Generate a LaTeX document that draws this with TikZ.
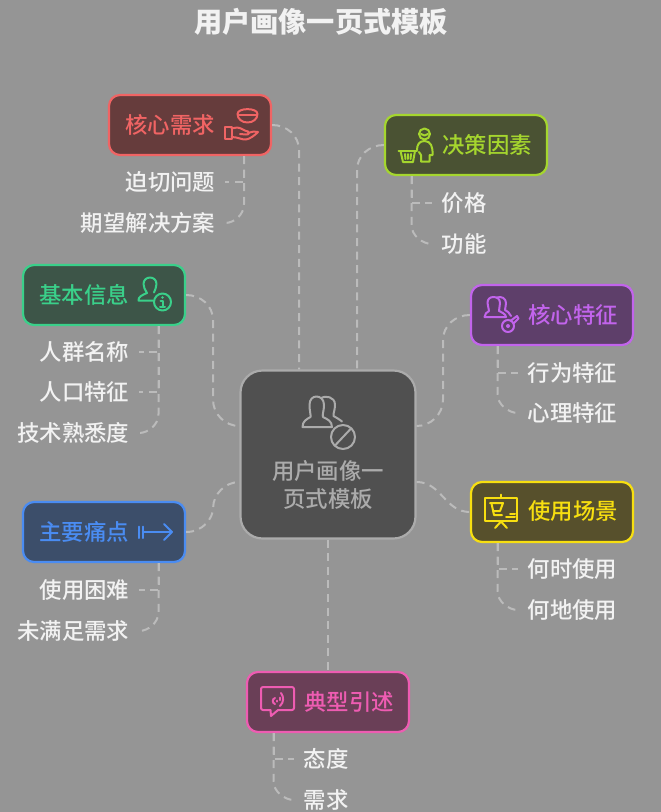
\documentclass[tikz,border=0pt]{standalone}
\usepackage{fontspec}
\setmainfont{Noto Sans CJK SC}
\newfontfamily\medf{Noto Sans CJK SC Medium}
\usetikzlibrary{calc}
\definecolor{bgc}{HTML}{959595}
\definecolor{linec}{HTML}{BBBBBB}
\definecolor{subc}{HTML}{F2F2F2}
\definecolor{hubf}{HTML}{505050}
\definecolor{hubs}{HTML}{ABABAB}
\definecolor{redf}{HTML}{663C3C}\definecolor{reds}{HTML}{F06464}
\definecolor{limf}{HTML}{4A5233}\definecolor{lims}{HTML}{A5D62E}
\definecolor{grnf}{HTML}{3D5548}\definecolor{grns}{HTML}{3AD08A}
\definecolor{purf}{HTML}{5E3F6A}\definecolor{purs}{HTML}{C264EC}
\definecolor{bluf}{HTML}{3C4E6A}\definecolor{blus}{HTML}{4A8CF2}
\definecolor{yelf}{HTML}{57502C}\definecolor{yels}{HTML}{F7DF10}
\definecolor{pnkf}{HTML}{6A3F57}\definecolor{pnks}{HTML}{EE5CB2}
\tikzset{
  x=1pt,y=-1pt,
  boxn/.style n args={2}{draw=#2,fill=#1,line width=2.2pt,rounded corners=11pt,
    minimum width=162pt,minimum height=60pt,inner sep=0pt},
  headt/.style={text=#1,font=\medf\fontsize{22.4pt}{26pt}\selectfont,inner sep=0pt},
  subt/.style={text=subc,font=\medf\fontsize{22.4pt}{26pt}\selectfont,inner ysep=0pt,inner xsep=9.5pt},
  conn/.style={draw=linec,line width=2pt,dash pattern=on 8pt off 5.6pt},
  ico/.style={draw=#1,line width=2pt,line join=round,line cap=round},
}
\begin{document}
\begin{tikzpicture}
\fill[bgc] (0,0) rectangle (661,812);
\useasboundingbox (0,0) rectangle (661,812);

% title
\node[text=subc,inner sep=0pt,font=\fontsize{28.2pt}{32pt}\selectfont\bfseries] (title) at (321,22) {用户画像一页式模板};

% junction coordinates
\coordinate (j1) at (299,150);
\coordinate (j2) at (357,170);
\coordinate (j3) at (213,320);
\coordinate (j4) at (443,340);

% hub
\node[draw=hubs,fill=hubf,line width=2.2pt,rounded corners=22pt,minimum width=175pt,minimum height=168pt,inner sep=0pt] (hub) at (328,454.5) {};
\node[text=hubs,align=center,inner sep=0pt,font=\medf\fontsize{22.4pt}{27.5pt}\selectfont] (hubt) at (328,485) {用户画像一\\页式模板};

% category boxes
\node[boxn={redf}{reds}] (n1) at (190,125) {};
\node[boxn={limf}{lims}] (n2) at (466,145) {};
\node[boxn={grnf}{grns}] (n3) at (104,295) {};
\node[boxn={purf}{purs}] (n4) at (552,315) {};
\node[boxn={bluf}{blus}] (n5) at (104,532) {};
\node[boxn={yelf}{yels}] (n6) at (552,512) {};
\node[boxn={pnkf}{pnks}] (n7) at (328,702) {};

% box texts
\node[headt=reds] (n1t) at (170,124.5) {核心需求};
\node[headt=lims] (n2t) at (487,144.5) {决策因素};
\node[headt=grns] (n3t) at (84,294.5) {基本信息};
\node[headt=purs] (n4t) at (573,314.5) {核心特征};
\node[headt=blus] (n5t) at (84,531.5) {主要痛点};
\node[headt=yels] (n6t) at (573,511.5) {使用场景};
\node[headt=pnks] (n7t) at (349,701.5) {典型引述};

% child texts
\node[subt,anchor=east] (a1) at (225,182) {迫切问题};
\node[subt,anchor=east] (a2) at (225,223) {期望解决方案};
\node[subt,anchor=west] (b1) at (432,203) {价格};
\node[subt,anchor=west] (b2) at (432,244) {功能};
\node[subt,anchor=east] (c1) at (139,352) {人群名称};
\node[subt,anchor=east] (c2) at (139,392) {人口特征};
\node[subt,anchor=east] (c3) at (139,433) {技术熟悉度};
\node[subt,anchor=west] (d1) at (518,373) {行为特征};
\node[subt,anchor=west] (d2) at (518,413) {心理特征};
\node[subt,anchor=east] (e1) at (139,590) {使用困难};
\node[subt,anchor=east] (e2) at (139,631) {未满足需求};
\node[subt,anchor=west] (f1) at (518,569) {何时使用};
\node[subt,anchor=west] (f2) at (518,610) {何地使用};
\node[subt,anchor=west] (g1) at (294,759) {态度};
\node[subt,anchor=west] (g2) at (294,800) {需求};

% hub connectors
\draw[conn] (n1.east) .. controls +(15,0) and +(0,-14) .. (j1) -- (j1 |- hub.north);
\draw[conn] (n2.west) .. controls +(-15,0) and +(0,-14) .. (j2) -- (j2 |- hub.north);
\draw[conn] (n3.east) .. controls +(15,0) and +(0,-14) .. (j3) -- ($(j3 |- hub.west)+(0,-55)$) .. controls +(0,15) and +(-14,0) .. ($(hub.west)+(0,-28.5)$);
\draw[conn] (n4.west) .. controls +(-15,0) and +(0,-14) .. (j4) -- ($(j4 |- hub.east)+(0,-55)$) .. controls +(0,15) and +(14,0) .. ($(hub.east)+(0,-28.5)$);
\draw[conn] (n5.east) .. controls +(17,0) and +(0,10) .. ($(n5.east)+(27,-24)$) .. controls +(0,-14) and +(-14,0) .. ($(hub.west)+(0,27.5)$);
\draw[conn] ($(hub.east)+(0,27.5)$) .. controls +(25,0) and +(-25,0) .. (n6.west);
\draw[conn] (hub.south) -- (n7.north);

% child connectors: every one starts at the box, so the trunk dashes coincide
\coordinate (ja) at (244,156);
\draw[conn] (ja) -- (ja |- a1.east) -- (a1.east);
\draw[conn] (ja) -- ($(ja |- a2.east)+(0,-19)$) .. controls +(0,11) and +(9,0) .. (a2.east);
\coordinate (jb) at (411.5,176);
\draw[conn] (jb) -- (jb |- b1.west) -- (b1.west);
\draw[conn] (jb) -- ($(jb |- b2.west)+(0,-19)$) .. controls +(0,11) and +(-9,0) .. (b2.west);
\coordinate (jc) at (158.5,326);
\draw[conn] (jc) -- (jc |- c1.east) -- (c1.east);
\draw[conn] (jc) -- (jc |- c2.east) -- (c2.east);
\draw[conn] (jc) -- ($(jc |- c3.east)+(0,-19)$) .. controls +(0,11) and +(9,0) .. (c3.east);
\coordinate (jd) at (497.5,346);
\draw[conn] (jd) -- (jd |- d1.west) -- (d1.west);
\draw[conn] (jd) -- ($(jd |- d2.west)+(0,-19)$) .. controls +(0,11) and +(-9,0) .. (d2.west);
\coordinate (je) at (158.5,563);
\draw[conn] (je) -- (je |- e1.east) -- (e1.east);
\draw[conn] (je) -- ($(je |- e2.east)+(0,-19)$) .. controls +(0,11) and +(9,0) .. (e2.east);
\coordinate (jf) at (497.5,543);
\draw[conn] (jf) -- (jf |- f1.west) -- (f1.west);
\draw[conn] (jf) -- ($(jf |- f2.west)+(0,-19)$) .. controls +(0,11) and +(-9,0) .. (f2.west);
\coordinate (jg) at (273.5,733);
\draw[conn] (jg) -- (jg |- g1.west) -- (g1.west);
\draw[conn] (jg) -- ($(jg |- g2.west)+(0,-19)$) .. controls +(0,11) and +(-9,0) .. (g2.west);

% --- icons ---
% hub: two people and forbidden sign
\begin{scope}[ico=hubs,line width=2pt]
\draw (302.5,427) -- (332,427) .. controls (332,421) and (327,419) .. (323,417) .. controls (322,415) and (324,411) .. (324,405) .. controls (324,399) and (320,396.5) .. (316.5,396.5) .. controls (313,396.5) and (309.5,399) .. (309.5,405) .. controls (309.5,411) and (311,415) .. (310.5,417) .. controls (307,419) and (302.5,421) .. (302.5,427) -- cycle;
\draw (322,397.5) .. controls (325,396) and (335,396) .. (335,405) .. controls (335,410) and (333,414) .. (333.5,416) .. controls (336,417.5) and (339,419) .. (342,421.5);
\draw (343,437) circle (12);
\draw (335,445.5) -- (351,428.5);
\end{scope}

% red: bowl and hand
\begin{scope}[ico=reds]
\draw (237.5,114) .. controls (237.5,107.5) and (257.5,107.5) .. (257.5,114) .. controls (257.5,119) and (253,122.5) .. (247.5,122.5) .. controls (242,122.5) and (237.5,119) .. (237.5,114) -- cycle;
\draw (238,114.5) -- (257,114.5);
\draw (224.5,127) rectangle (231.5,139);
\draw (231.5,128.5) -- (237,127.5) .. controls (241,127.5) and (244,131) .. (248,131.5) .. controls (250,132) and (249,135) .. (246,134.5) -- (240,134);
\draw (231.5,137) .. controls (238,137) and (242,140) .. (246,139.5) .. controls (250,139) and (255,135) .. (258,132) .. controls (255,130.5) and (252,132) .. (248,133);
\end{scope}

% lime: person with basket
\begin{scope}[ico=lims]
\draw (424.5,134) circle (5.5);
\draw (421,134) .. controls (423,136) and (426,136) .. (428,134);
\draw (417,150) .. controls (417,145) and (419,141) .. (424.5,141) .. controls (431,141) and (433,147) .. (432.5,155) -- (429.5,155) -- (429.5,161.5) -- (421,161.5) -- (421,155) -- (419,152);
\draw (398.5,151) -- (417,151);
\draw (400.5,151) -- (403,162) -- (413,162) -- (415,151);
\draw (405,154) -- (405.5,159);
\draw (408,154) -- (408,159);
\draw (411,154) -- (410.5,159);
\end{scope}

% green: person with info circle
\begin{scope}[ico=grns]
\draw (153,300.5) -- (138.5,300.5) .. controls (138,297) and (142,295) .. (147,293) .. controls (145,290) and (143.5,287) .. (143.5,284) .. controls (143.5,280) and (146.5,277.5) .. (150,277.5) .. controls (153.5,277.5) and (156.5,280) .. (156.5,284) .. controls (156.5,287) and (155,290) .. (154,292.5);
\draw (162.5,302) circle (8.5);
\fill[grns] (162.5,297.5) circle (1.4);
\draw (160.5,300.5) -- (162.5,300.5) -- (162.5,306.5);
\draw (160,306.5) -- (165,306.5);
\end{scope}

% purple: people with key
\begin{scope}[ico=purs]
\draw (484.5,317) -- (506,317) .. controls (506,314) and (501,312) .. (499,311) .. controls (499,308) and (500,306) .. (500,303) .. controls (500,299) and (497,297) .. (493.5,297) .. controls (490,297) and (487.5,299) .. (487.5,303) .. controls (487.5,306) and (489,308) .. (489,311) .. controls (487,312) and (484.5,314) .. (484.5,317) -- cycle;
\draw (497,297.5) .. controls (501,296) and (506,298) .. (506,303) .. controls (506,306) and (505,308) .. (505,310) .. controls (507,311) and (510,313) .. (511,316);
\draw (508,326) circle (6);
\fill[purs] (508,326) circle (2);
\draw (511,320.5) -- (517,316) -- (518.5,318.5) -- (513.5,323.5);
\end{scope}

% blue: bars and arrow
\begin{scope}[ico=blus]
\draw (138.5,526.5) -- (138.5,538);
\draw (143,526.5) -- (143,538);
\draw (143,532) -- (172,532);
\draw (164,524) -- (172,532) -- (164,540);
\end{scope}

% yellow: board with cart
\begin{scope}[ico=yels]
\draw (485,498) rectangle (517,521);
\draw (501,494.5) -- (501,498);
\draw (495,528) -- (501,521.5) -- (507,528);
\draw (490,503) -- (503,503) -- (500,511) -- (493.5,511);
\draw (491.5,503.5) -- (494,515) -- (502,515);
\draw (510,514) -- (515,514);
\draw (506,517) -- (515,517);
\end{scope}

% pink: speech bubble
\begin{scope}[ico=pnks]
\draw (263,687) -- (292,687) .. controls (293,687) and (294,688) .. (294,689) -- (294,708) .. controls (294,709) and (293,710) .. (292,710) -- (278,710) -- (271,716) -- (270.5,710) -- (263,710) .. controls (262,710) and (261,709) .. (261,708) -- (261,689) .. controls (261,688) and (262,687) .. (263,687) -- cycle;
\draw (281,693) .. controls (284,697) and (284,702) .. (280,706);
\draw (275,698) .. controls (272,699) and (272,703) .. (275,704);
\draw (276.5,700.5) -- (276.5,701.5);
\draw (279.5,697.5) -- (279.5,700);
\end{scope}
\end{tikzpicture}
\end{document}
